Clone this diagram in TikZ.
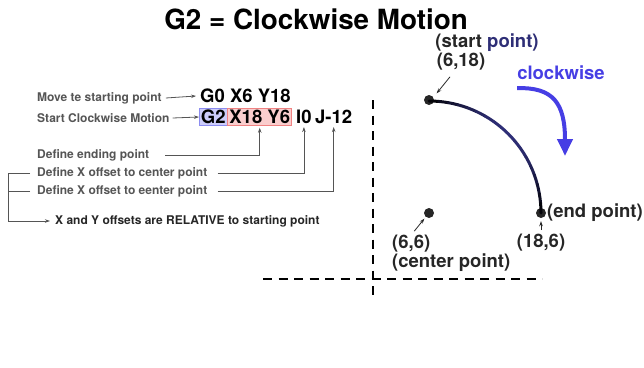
\documentclass[tikz,border=0pt]{standalone}
\usepackage{fontspec}
\setmainfont{TeX Gyre Heros}
\usetikzlibrary{arrows.meta}

\definecolor{notegray}{RGB}{85,85,85}
\definecolor{cwblue}{RGB}{70,62,228}
\definecolor{arcnavy}{RGB}{46,46,118}
\definecolor{boxblue}{RGB}{204,204,250}
\definecolor{boxblueline}{RGB}{140,140,240}
\definecolor{boxpink}{RGB}{250,205,205}
\definecolor{boxpinkline}{RGB}{240,130,130}

\tikzset{
    note/.style={anchor=west, inner sep=0pt, text=notegray, font=\bfseries\fontsize{12}{14}\selectfont},
    gcode/.style={anchor=west, inner sep=0pt, font=\bfseries\fontsize{18.5}{21}\selectfont},
    codebox/.style={gcode, inner sep=1.5pt, line width=0.8pt},
    pointlabel/.style={inner sep=0pt, text=black!85, font=\bfseries\fontsize{18.5}{21}\selectfont},
    leader/.style={draw=notegray, line width=0.8pt},
    leader arrow/.style={leader, -{Stealth[length=5pt,width=3.5pt]}},
    pin arrow/.style={draw=black!85, line width=0.8pt, -{Stealth[length=5pt,width=3.5pt]}},
    axisline/.style={line width=2.6pt, dash pattern=on 9pt off 6.5pt},
    dot/.style={circle, fill=black!85, inner sep=0pt, minimum size=10pt},
    arcseg/.style={line width=3pt, line cap=round},
    cw arrow/.style={draw=cwblue, line width=4pt, -{Triangle[length=17pt,width=15pt]}},
}

\begin{document}
\begin{tikzpicture}[x=1pt, y=1pt]
    \useasboundingbox (0,0) rectangle (644,-367);

    % title
    \node[inner sep=0pt, font=\bfseries\fontsize{27.8}{32}\selectfont] (title) at (316,-19) {G2 = Clockwise Motion};

    % G-code lines
    \node[gcode] (g0) at (200,-96) {G0 X6 Y18};
    \node[codebox, fill=boxblue, draw=boxblueline] (g2) at (199,-117) {G2};
    \node[codebox, fill=boxpink, draw=boxpinkline, anchor=west] (xy) at (g2.east) {X18 Y6};
    \node[gcode] (i0) at (296,-117) {I0};
    \node[gcode] (jm12) at (315,-117) {J-12};

    % notes on the left
    \node[note] (movenote) at (37,-98) {Move te starting point};
    \node[note] (startnote) at (37,-118) {Start Clockwise Motion};
    \node[note] (endnote) at (37,-155) {Define ending point};
    \node[note] (xnote) at (37,-173) {Define X offset to center point};
    \node[note] (ynote) at (37,-191) {Define X offset to eenter point};
    \node[note, text=black!85] (relnote) at (55,-221) {X and Y offsets are RELATIVE to starting point};

    \draw[leader arrow] ([xshift=4pt]movenote.east) -- ([xshift=-4pt]g0.west);
    \draw[leader arrow] ([xshift=3pt]startnote.east) -- (g2.west);
    \draw[leader arrow] ([xshift=16pt]endnote.east) -| ([yshift=-2pt]xy.south);
    \draw[leader arrow] ([xshift=10pt]xnote.east) -| ([yshift=-3pt]i0.south);
    \draw[leader arrow] ([xshift=10pt]ynote.east) -| ([yshift=-3pt]jm12.south);

    \coordinate (bracket) at (8,-173);
    \draw[leader arrow] ([xshift=-7pt]xnote.west) -- (bracket) |- ([xshift=-5pt]relnote.west);
    \draw[leader] ([xshift=-7pt]ynote.west) -- (bracket |- ynote.west);

    % axes
    \draw[axisline] (373,-100) -- (373,-298);
    \draw[axisline] (263,-279) -- (542,-279);

    % points
    \node[dot] (start) at (429,-100) {};
    \node[dot] (center) at (429,-213) {};
    \node[dot] (end) at (541,-213) {};

    % the arc, black to navy and back
    \foreach \a in {0,5,...,85} {
        \pgfmathsetmacro{\mix}{100*sin(2*(\a+2.5))}
        \draw[arcseg, arcnavy!\mix!black] ([shift={(90-\a:112)}]center.center) arc[start angle=90-\a, end angle=85-\a, radius=112];
    }

    % point labels
    \node[pointlabel] (startname) at (487,-43) {(start \textcolor{arcnavy}{point)}};
    \node[pointlabel] (startcoord) at (461,-62) {(6,18)};
    \node[pointlabel, anchor=west] (centercoord) at (392,-244) {(6,6)};
    \node[pointlabel, anchor=west] (centername) at (392,-263) {(center point)};
    \node[pointlabel, anchor=west] (endname) at (547,-213) {(end point)};
    \node[pointlabel] (endcoord) at (541,-243) {(18,6)};

    \draw[pin arrow] ([xshift=-11pt,yshift=-6pt]startcoord.south) -- ([shift={(4pt,3pt)}]start.north east);
    \draw[pin arrow] ([xshift=3pt,yshift=4pt]centercoord.north) -- ([shift={(-1pt,-2pt)}]center.south west);
    \draw[pin arrow] ([yshift=4pt]endcoord.north) -- ([yshift=-3pt]end.south);

    % clockwise arrow
    \node[inner sep=0pt, text=cwblue, font=\bfseries\fontsize{18.5}{21}\selectfont] (cwlabel) at (561,-73) {clockwise};
    \draw[cw arrow] ([yshift=-8pt]cwlabel.south west) .. controls (553,-87) and (565,-103) .. (565,-156);
\end{tikzpicture}
\end{document}
